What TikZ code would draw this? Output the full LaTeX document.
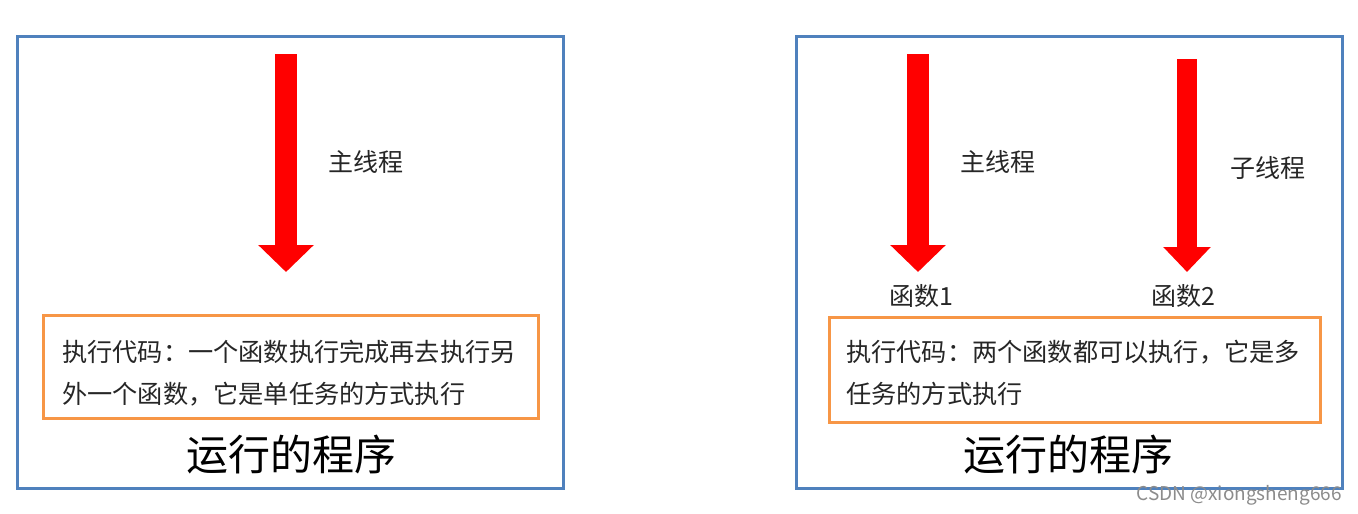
\documentclass[tikz,border=0pt]{standalone}
\usepackage{fontspec}
\setmainfont{Noto Sans CJK SC}
\usetikzlibrary{arrows.meta}
\definecolor{boxblue}{RGB}{79,129,189}
\definecolor{boxorange}{RGB}{247,150,70}
\tikzset{
  prog/.style={draw=boxblue, line width=3pt},
  codebox/.style={draw=boxorange, line width=3pt, minimum width=495, minimum height=103, inner sep=0pt},
  thread/.style={red, line width=22pt, -{Triangle[width=54pt,length=27pt]}},
  lbl/.style={font=\fontsize{25}{30}\selectfont, text=black!85, inner sep=0pt},
  codetext/.style={font=\fontsize{25.2}{42}\selectfont, text=black!85, align=left, inner sep=0pt, anchor=west},
  title/.style={font=\fontsize{42}{50}\selectfont, inner sep=0pt}
}
\begin{document}
\begin{tikzpicture}[x=1pt,y=-1pt]
  \useasboundingbox (0,0) rectangle (1358,514);
  \fill[white] (0,0) rectangle (1358,514);

  % Programme a gauche : un seul thread
  \draw[prog] (17,36) rectangle (563,488);
  \coordinate (m1top) at (286,54);
  \coordinate (m1tip) at (286,272);
  \draw[thread] (m1top) -- (m1tip);
  \node[lbl, anchor=west] (main1) at (328,162) {主线程};
  \node[codebox] (code1) at (290.5,367) {};
  \node[codetext] (text1) at (62,373) {执行代码：一个函数执行完成再去执行另\\外一个函数，它是单任务的方式执行};
  \node[title] (run1) at (291,455) {运行的程序};

  % Programme a droite : deux threads
  \draw[prog] (796,36) rectangle (1342,488);
  \coordinate (m2top) at (918,54);
  \coordinate (m2tip) at (918,272);
  \draw[thread] (m2top) -- (m2tip);
  \coordinate (subtop) at (1187,59);
  \coordinate (subtip) at (1187,272);
  \draw[thread, -{Triangle[width=46pt,length=25pt]}, line width=20pt] (subtop) -- (subtip);
  \node[lbl, anchor=west] (main2) at (960,162) {主线程};
  \node[lbl, anchor=west] (sub2) at (1230,168) {子线程};
  \node[lbl, anchor=west] (fn1) at (889,296) {函数1};
  \node[lbl, anchor=west] (fn2) at (1151,296) {函数2};
  \node[codebox, minimum width=491, minimum height=105] (code2) at (1074.5,369.5) {};
  \node[codetext] (text2) at (846,373) {执行代码：两个函数都可以执行，它是多\\任务的方式执行};
  \node[title] (run2) at (1068,455) {运行的程序};

  % Filigrane
  \node[font=\fontsize{19}{21}\selectfont, text=black!45, anchor=east, inner sep=0pt] (mark) at (1342,495) {CSDN @xiongsheng666};
\end{tikzpicture}
\end{document}
